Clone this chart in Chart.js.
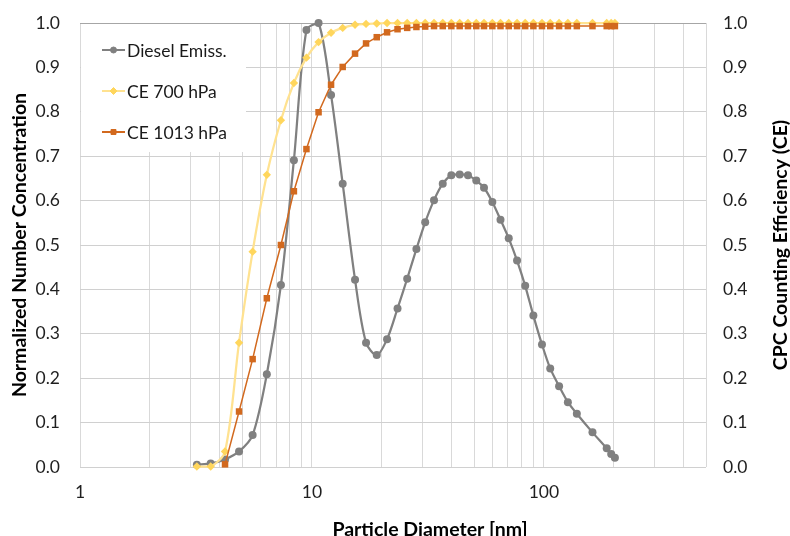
<!DOCTYPE html>
<html>
<head>
<meta charset="utf-8">
<script src="https://cdn.jsdelivr.net/npm/chart.js@4/dist/chart.umd.min.js"></script>
<style>
  body { margin: 0; background: #fff; }
  canvas { display: block; }
</style>
</head>
<body>
<canvas id="sizeChart" width="790" height="536"></canvas>
<script>
// particle diameter [nm], shared by all three series
const diameters = [3.19, 3.66, 4.22, 4.85, 5.55, 6.39, 7.35, 8.36, 9.47, 10.68,
  12.09, 13.57, 15.34, 17.11, 19.03, 21.08, 23.39, 25.74, 28.21, 30.78,
  33.6, 36.64, 39.9, 43.35, 47.07, 51.11, 55.19, 59.95, 65.01, 70.55,
  76.63, 83.07, 90.09, 98.13, 106.5, 116.3, 126.9, 138.7, 162.0, 186.6,
  195.1, 202.4];

// normalized number concentration of diesel exhaust
const dieselEmiss = [0.005, 0.008, 0.017, 0.035, 0.072, 0.209, 0.41, 0.691, 0.984, 1.0,
  0.838, 0.638, 0.422, 0.280, 0.252, 0.288, 0.357, 0.424, 0.491, 0.551,
  0.601, 0.638, 0.657, 0.659, 0.657, 0.645, 0.629, 0.597, 0.557, 0.515,
  0.465, 0.408, 0.341, 0.276, 0.222, 0.182, 0.146, 0.120, 0.078, 0.042,
  0.029, 0.021];

// CPC counting efficiency at 700 hPa
const ce700 = [0.001, 0.001, 0.035, 0.280, 0.485, 0.658, 0.781, 0.865, 0.922, 0.957,
  0.978, 0.989, 0.996, 0.998, 0.999, 1.0, 1.0, 1.0, 1.0, 1.0,
  1.0, 1.0, 1.0, 1.0, 1.0, 1.0, 1.0, 1.0, 1.0, 1.0,
  1.0, 1.0, 1.0, 1.0, 1.0, 1.0, 1.0, 1.0, 1.0, 1.0,
  1.0, 1.0];

// CPC counting efficiency at 1013 hPa
const ce1013 = [null, null, 0.006, 0.125, 0.243, 0.380, 0.500, 0.621, 0.716, 0.799,
  0.861, 0.901, 0.931, 0.954, 0.968, 0.979, 0.986, 0.989, 0.991, 0.992,
  0.993, 0.993, 0.993, 0.993, 0.993, 0.993, 0.993, 0.993, 0.993, 0.993,
  0.993, 0.993, 0.993, 0.993, 0.993, 0.993, 0.993, 0.993, 0.993, 0.993,
  0.993, 0.993];

const xLabels = [1, 10, 100];
const xMin = 1, xMax = 500;

const FONT = "Lato, 'Noto Sans', sans-serif";
const GREY = "#808080", YELLOW = "#ffd65c", YELLOW_LINE = "#ffe290", ORANGE = "#d2691e";

function toPoints(ys) {
  return diameters.map((d, i) => ({ x: d, y: ys[i] }));
}

// gridline positions: 1..9, 10..90, 100..500
function logGridValues() {
  const vals = [];
  for (let e = 1; e <= 100; e *= 10) {
    for (let m = 1; m <= 9; m++) {
      const v = m * e;
      if (v <= xMax) vals.push(v);
    }
  }
  return vals;
}

// keep the plot box fixed: no extra room for the end tick labels
function fixedWidth(w) {
  return function (scale) {
    scale.width = w;
    scale.paddingTop = 0;
    scale.paddingBottom = 0;
  };
}

const legendItems = [
  { text: "Diesel Emiss.", color: GREY, line: GREY, style: "circle", r: 3 },
  { text: "CE 700 hPa", color: YELLOW, line: YELLOW_LINE, style: "rectRot", r: 3.5 },
  { text: "CE 1013 hPa", color: ORANGE, line: ORANGE, style: "rect", r: 3.5 }
];

const decorPlugin = {
  id: "decor",
  afterDraw(chart) {
    const ctx = chart.ctx;
    const area = chart.chartArea;
    ctx.save();

    // legend box
    ctx.fillStyle = "#fff";
    ctx.fillRect(area.left + 1, area.top + 1, 165, 128);
    legendItems.forEach((it, i) => {
      const y = 50 + i * 41;
      ctx.strokeStyle = it.line;
      ctx.lineWidth = 2;
      ctx.beginPath();
      ctx.moveTo(102, y);
      ctx.lineTo(125, y);
      ctx.stroke();
      ctx.fillStyle = it.color;
      ctx.strokeStyle = it.color;
      ctx.lineWidth = 1;
      Chart.helpers.drawPoint(ctx, { pointStyle: it.style, radius: it.r, borderWidth: 1 }, 113.5, y);
      ctx.fillStyle = "#1a1a1a";
      ctx.font = "17.5px " + FONT;
      ctx.textBaseline = "middle";
      ctx.textAlign = "left";
      ctx.fillText(it.text, 127, y + 1);
    });

    // axis titles
    ctx.fillStyle = "#000";
    ctx.font = "bold 19.5px " + FONT;
    ctx.textAlign = "center";
    ctx.textBaseline = "alphabetic";
    ctx.fillText("Particle Diameter [nm]", 430, 536);

    ctx.save();
    ctx.translate(26, 245);
    ctx.rotate(-Math.PI / 2);
    ctx.fillText("Normalized Number Concentration", 0, 0);
    ctx.restore();

    ctx.save();
    ctx.translate(787, 245);
    ctx.rotate(-Math.PI / 2);
    ctx.fillText("CPC Counting Efficiency (CE)", 0, 0);
    ctx.restore();

    ctx.restore();
  }
};

const ctx = document.getElementById("sizeChart").getContext("2d");

new Chart(ctx, {
  type: "line",
  data: {
    datasets: [
      {
        label: "Diesel Emiss.",
        data: toPoints(dieselEmiss),
        yAxisID: "y",
        borderColor: GREY,
        backgroundColor: GREY,
        borderWidth: 2.25,
        pointStyle: "circle",
        pointRadius: 4,
        pointBorderWidth: 0,
        tension: 0.3,
        order: 3,
        clip: false
      },
      {
        label: "CE 700 hPa",
        data: toPoints(ce700),
        yAxisID: "y1",
        borderColor: YELLOW_LINE,
        backgroundColor: YELLOW,
        borderWidth: 2.25,
        pointStyle: "rectRot",
        pointRadius: 4.2,
        pointBorderWidth: 0,
        tension: 0.3,
        order: 2,
        clip: false
      },
      {
        label: "CE 1013 hPa",
        data: toPoints(ce1013),
        yAxisID: "y1",
        borderColor: ORANGE,
        backgroundColor: ORANGE,
        borderWidth: 1.5,
        pointStyle: "rect",
        pointRadius: 4.6,
        pointBorderWidth: 0,
        tension: 0,
        order: 1,
        clip: false
      }
    ]
  },
  options: {
    responsive: false,
    animation: false,
    layout: { padding: { top: 23, left: 0, right: 0, bottom: 0 } },
    plugins: {
      legend: { display: false },
      tooltip: { enabled: false }
    },
    scales: {
      x: {
        type: "logarithmic",
        min: xMin,
        max: xMax,
        afterBuildTicks(scale) {
          scale.ticks = logGridValues().map(v => ({ value: v }));
        },
        afterFit(scale) { scale.height = 69; },
        border: { display: false },
        grid: { color: "#d9d9d9", lineWidth: 1, drawTicks: false },
        ticks: {
          autoSkip: false,
          maxRotation: 0,
          padding: 15,
          color: "#1f1f1f",
          font: { family: FONT, size: 17.5 },
          callback: v => (xLabels.includes(v) ? String(v) : "")
        }
      },
      y: {
        position: "left",
        min: 0,
        max: 1,
        afterFit: fixedWidth(80),
        border: { display: false },
        grid: {
          color: c => (c.tick && c.tick.value === 1 ? "#a6a6a6" : "#d0d0d0"),
          lineWidth: 1,
          drawTicks: false
        },
        ticks: {
          stepSize: 0.1,
          padding: 20,
          color: "#1f1f1f",
          font: { family: FONT, size: 17.5 },
          callback: v => v.toFixed(1)
        }
      },
      y1: {
        position: "right",
        min: 0,
        max: 1,
        afterFit: fixedWidth(84),
        border: { display: false },
        grid: { display: false, drawTicks: false },
        ticks: {
          stepSize: 0.1,
          padding: 17,
          color: "#1f1f1f",
          font: { family: FONT, size: 17.5 },
          callback: v => v.toFixed(1)
        }
      }
    }
  },
  plugins: [decorPlugin]
});
</script>
</body>
</html>
